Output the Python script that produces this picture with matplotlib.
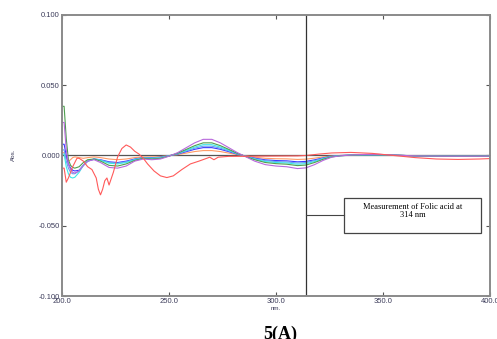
import matplotlib
matplotlib.use("Agg")
import matplotlib.pyplot as plt
from matplotlib.patches import Rectangle

# ---- data ----
wl = [200, 201, 202, 203, 204, 205, 206, 208, 210, 212, 215, 218, 222, 226, 230, 234,
      238, 242, 246, 250, 254, 258, 262, 266, 270, 274, 278, 282, 286, 290, 295, 300,
      305, 310, 314, 318, 322, 326, 330, 336, 342, 348, 354, 360, 366, 372, 380, 388,
      396, 400]

purple = [0.0235, 0.0235, 0.004, -0.006, -0.010, -0.012, -0.0125, -0.011, -0.007, -0.004,
          -0.003, -0.005, -0.0085, -0.009, -0.0075, -0.004, -0.0025, -0.003, -0.0025, -0.0005,
          0.002, 0.0055, 0.009, 0.0115, 0.0115, 0.009, 0.0055, 0.002, -0.001, -0.004,
          -0.0065, -0.0075, -0.008, -0.0093, -0.0088, -0.0065, -0.0035, -0.0012, -0.0002, 0.0004,
          0.0008, 0.0008, 0.0004, 0.0, -0.0003, -0.0004, -0.0005, -0.0005, -0.0005, -0.0004]

green = [0.035, 0.035, 0.012, -0.003, -0.007, -0.0085, -0.009, -0.008, -0.005, -0.003,
         -0.0025, -0.004, -0.007, -0.0075, -0.006, -0.0035, -0.002, -0.0025, -0.002, -0.0004,
         0.0016, 0.0043, 0.007, 0.009, 0.009, 0.007, 0.0043, 0.0015, -0.0008, -0.003,
         -0.005, -0.0058, -0.0062, -0.0072, -0.0068, -0.005, -0.0027, -0.001, -0.0002, 0.0003,
         0.0006, 0.0006, 0.0003, 0.0, -0.0003, -0.0004, -0.0005, -0.0005, -0.0005, -0.0004]

cyan = [0.001, 0.001, -0.008, -0.013, -0.0155, -0.016, -0.0155, -0.012, -0.007, -0.004,
        -0.0025, -0.0035, -0.0055, -0.006, -0.005, -0.003, -0.0018, -0.002, -0.0016, -0.0003,
        0.0014, 0.0037, 0.006, 0.0077, 0.0077, 0.006, 0.0037, 0.0013, -0.0007, -0.0026,
        -0.0043, -0.005, -0.0053, -0.0062, -0.0058, -0.0043, -0.0023, -0.0008, -0.0001, 0.0003,
        0.0005, 0.0005, 0.0003, 0.0, -0.0003, -0.0004, -0.0005, -0.0005, -0.0005, -0.0004]

cornflower = [0.004, 0.004, -0.004, -0.009, -0.012, -0.013, -0.013, -0.011, -0.007, -0.004,
              -0.0025, -0.0032, -0.005, -0.0055, -0.0045, -0.0028, -0.0016, -0.0018, -0.0014, -0.0002,
              0.0012, 0.0032, 0.0052, 0.0066, 0.0066, 0.0052, 0.0032, 0.0011, -0.0006, -0.0022,
              -0.0037, -0.0043, -0.0046, -0.0053, -0.005, -0.0037, -0.002, -0.0007, -0.0001, 0.0003,
              0.0005, 0.0005, 0.0003, 0.0, -0.0003, -0.0004, -0.0005, -0.0005, -0.0005, -0.0004]

blue = [0.008, 0.008, 0.0, -0.006, -0.009, -0.0105, -0.011, -0.0105, -0.007, -0.004,
        -0.0025, -0.003, -0.0045, -0.005, -0.004, -0.0025, -0.0015, -0.0016, -0.0012, -0.0002,
        0.001, 0.0027, 0.0044, 0.0056, 0.0056, 0.0044, 0.0027, 0.0009, -0.0005, -0.0019,
        -0.0031, -0.0036, -0.0038, -0.0045, -0.0042, -0.0031, -0.0017, -0.0006, 0.0, 0.0003,
        0.0005, 0.0005, 0.0003, 0.0, -0.0003, -0.0004, -0.0005, -0.0005, -0.0005, -0.0004]

orange = [0.002, 0.002, -0.002, -0.004, -0.003, -0.0015, -0.001, -0.0015, -0.002, -0.0015,
          -0.001, -0.0015, -0.0025, -0.003, -0.0025, -0.0015, -0.001, -0.001, -0.0008, -0.0001,
          0.0006, 0.0017, 0.0028, 0.0035, 0.0035, 0.0028, 0.0017, 0.0006, -0.0003, -0.0012,
          -0.002, -0.0023, -0.0024, -0.0028, -0.0026, -0.0019, -0.001, -0.0004, 0.0, 0.0003,
          0.0005, 0.0005, 0.0003, 0.0, -0.0003, -0.0004, -0.0005, -0.0005, -0.0005, -0.0004]

wl_red = [200, 201, 202, 203, 205, 207, 208, 210, 212, 214, 216, 217, 218, 219, 220, 221,
          222, 224, 226, 228, 230, 232, 234, 236, 238, 240, 243, 246, 249, 252, 256, 260,
          264, 268, 269, 271, 273, 278, 284, 290, 300, 310, 314, 320, 326, 335, 345, 355,
          365, 375, 385, 395, 400]
red = [-0.009, -0.009, -0.019, -0.016, -0.008, -0.002, -0.002, -0.004, -0.008, -0.010,
       -0.016, -0.024, -0.028, -0.024, -0.018, -0.016, -0.021, -0.012, -0.001, 0.005,
       0.0075, 0.006, 0.003, 0.001, -0.002, -0.006, -0.011, -0.0145, -0.0157, -0.0145,
       -0.010, -0.006, -0.004, -0.0018, -0.0012, -0.003, -0.0012, -0.0006, -0.0006, -0.0005,
       -0.0004, -0.0003, 0.0, 0.001, 0.0018, 0.0022, 0.0015, 0.0, -0.0015, -0.0025,
       -0.0028, -0.0025, -0.0022]

x_ticks = [200.0, 250.0, 300.0, 350.0, 400.0]
y_ticks = [-0.100, -0.050, 0.000, 0.050, 0.100]
measure_nm = 314
annotation = "Measurement of Folic acid at\n314 nm"
caption = "5(A)"

# ---- figure ----
fig = plt.figure(figsize=(4.97, 3.39), dpi=100)
ax = fig.add_axes([0.1247, 0.1268, 0.8613, 0.829])

series = [
    (orange, "#ff9a66"),
    (blue, "#3a3aff"),
    (cornflower, "#6f9cf0"),
    (cyan, "#3ee8e8"),
    (green, "#4f9f4f"),
    (purple, "#b868dc"),
]
for vals, col in series:
    ax.plot(wl, vals, color=col, lw=0.8)
ax.plot(wl_red, red, color="#ff5a5a", lw=0.8)

ax.axhline(0, color="#555555", lw=0.9, zorder=1)
ax.axvline(measure_nm, color="#333333", lw=0.9)

ax.set_xlim(200, 400)
ax.set_ylim(-0.1, 0.1)
ax.set_xticks(x_ticks)
ax.set_yticks(y_ticks)
ax.set_xticklabels([f"{v:.1f}" for v in x_ticks])
ax.set_yticklabels([f"{v:.3f}" for v in y_ticks])
ax.tick_params(direction="in", length=3, width=0.8, color="#555555",
               top=True, right=True, labelsize=5.5, labelcolor="#3c3c5a", pad=1.5)
for lab in ax.get_xticklabels() + ax.get_yticklabels():
    lab.set_family("Liberation Sans")
for sp in ax.spines.values():
    sp.set_color("#8a8a8a")
    sp.set_linewidth(1.4)

# annotation box
bx0, bx1 = 331.8, 395.8
by0, by1 = -0.0555, -0.0306
ax.add_patch(Rectangle((bx0, by0), bx1 - bx0, by1 - by0, fill=False,
                       edgecolor="#444444", lw=0.9))
ax.plot([measure_nm, bx0], [-0.042, -0.042], color="#444444", lw=0.8)
ax.text((bx0 + bx1) / 2, -0.0395, annotation, ha="center", va="center",
        fontsize=6, family="Liberation Serif", linespacing=0.95)

fig.text(13 / 497, 1 - 155 / 339, "Abs.", rotation=90, ha="center", va="center",
         fontsize=4.5, family="Liberation Sans", color="#3c3c5a")
fig.text(276 / 497, 1 - 309 / 339, "nm.", ha="center", va="center",
         fontsize=4.5, family="Liberation Sans", color="#3c3c5a")
fig.text(280 / 497, 1 - 334 / 339, caption, ha="center", va="center",
         fontsize=13, fontweight="bold", family="Liberation Serif")

fig.savefig("out.png", dpi=100)
